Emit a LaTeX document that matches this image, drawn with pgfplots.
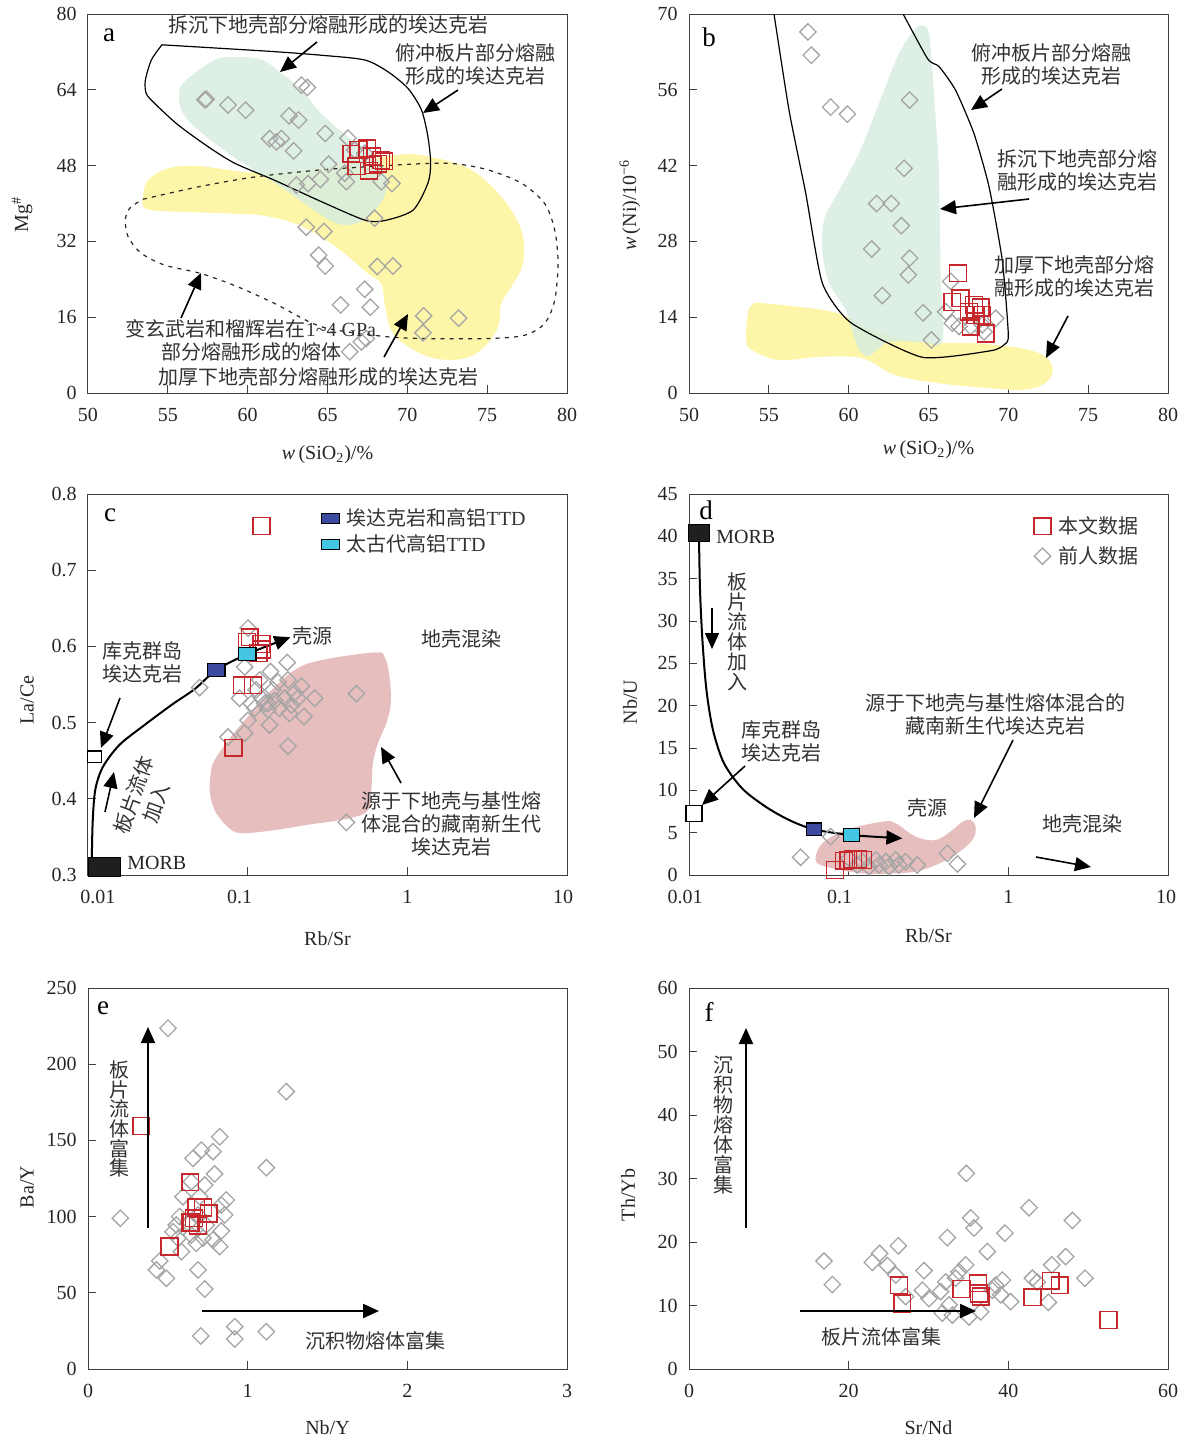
\documentclass[border=0pt]{standalone}
\usepackage{fontspec}
\setmainfont{Liberation Serif}
\newfontfamily\cjk{Noto Sans CJK SC}
\usepackage{pgfplots}
\pgfplotsset{compat=1.18}
\usetikzlibrary{arrows.meta}
\definecolor{gmark}{RGB}{165,165,165}
\definecolor{rmark}{RGB}{198,40,46}
\definecolor{greg}{RGB}{216,237,224}
\definecolor{yreg}{RGB}{253,245,168}
\definecolor{preg}{RGB}{230,190,190}
\definecolor{bmark}{RGB}{60,74,160}
\definecolor{cmark}{RGB}{66,198,228}
\definecolor{txt}{RGB}{50,50,50}
\pgfplotsset{
  panel/.style={scale only axis, width=239.5pt,
    axis line style={black!75, line width=0.5pt},
    tick align=inside, tick pos=left, major tick length=4pt,
    tick style={black!75, line width=0.5pt},
    tick label style={font=\fontsize{10}{12}\selectfont, text=black!85},
    /pgf/number format/assume math mode=true,
    xticklabel shift=4.2pt, yticklabel shift=2.2pt,
    label style={font=\fontsize{10}{12}\selectfont, text=black!85},
    clip marker paths=false},
  gd/.style={only marks, color=gmark, mark=square, mark size=2.9pt,
    mark options={rotate=45, line width=0.65pt}},
  rs/.style={only marks, color=rmark, mark=square, mark size=4.2pt,
    mark options={line width=0.75pt}},
}
\begin{document}
\begin{tikzpicture}
\useasboundingbox (0,0) rectangle (592.5pt,-721.5pt);

% ---------------- a ----------------
\begin{axis}[panel, at={(44pt,-196.5pt)}, anchor=south west, height=189.5pt,
  xmin=50, xmax=80, ymin=0, ymax=80,
  xtick={50,55,...,80}, ytick={0,16,...,80},
  xlabel={\textit{w}\,(SiO\textsubscript{2})/\%}, ylabel={Mg\textsuperscript{\#}},
  xlabel style={at={(axis description cs:0.5,-0.1636)}, anchor=center},
  ylabel style={at={(axis description cs:-0.1378,0.47)}, anchor=center}]
\addplot[draw=none, fill=yreg, smooth, tension=0.6] coordinates {
(53.44,41.4) (53.76,44.9) (55.01,47.4) (56.89,47.9) (60.44,46.5) (63.57,47.1) (66.70,48.8) (69.83,50.4) (71.92,49.5) (74.01,47.1) (75.89,41.4) (77.14,34.4) (77.24,27.4) (76.51,22.4) (75.89,18.9) (75.68,14.0) (74.84,9.8) (73.59,7.3) (71.71,7.3) (70.04,9.8) (68.99,13.3) (68.58,18.9) (68.37,23.1) (67.54,25.2) (66.08,29.4) (64.61,32.9) (62.94,35.8) (60.86,37.5) (58.77,37.9) (56.26,38.2) (53.97,38.6) (53.44,39.6) (53.44,41.4)};
\addplot[draw=none, fill=greg, fill opacity=0.85, smooth, tension=0.6] coordinates {
(55.74,64.3) (56.26,66.4) (57.93,70.3) (59.19,70.9) (60.86,70.4) (62.11,67.5) (63.36,64.0) (64.61,59.0) (66.28,54.1) (67.75,50.6) (68.58,47.1) (68.68,42.8) (68.16,39.3) (67.12,36.2) (65.87,35.5) (64.61,37.6) (62.94,41.5) (61.27,45.3) (59.39,49.2) (57.52,53.8) (56.26,57.6) (55.74,60.8) (55.74,64.3)};
\addplot[black, line width=0.6pt, smooth, tension=0.45] coordinates {
(54.63,73.5) (61.48,72.1) (64.61,71.3) (67.33,70.3) (68.79,67.8) (70.04,64.3) (70.88,59.8) (71.29,54.1) (71.46,48.5) (71.29,44.3) (70.36,38.6) (68.58,36.4) (67.33,36.5) (64.61,40.4) (61.69,44.9) (59.19,48.5) (57.52,52.0) (55.64,56.6) (54.18,61.1) (53.65,63.2) (53.59,66.0) (53.97,70.3) (54.63,73.5)};
\addplot[black!85, line width=0.6pt, dash pattern=on 2pt off 2.6pt, smooth, tension=0.5] coordinates {
(53.44,40.9) (56.89,43.5) (60.44,45.6) (64.61,47.1) (67.75,47.8) (70.88,48.4) (72.96,48.4) (75.05,47.1) (77.14,44.3) (78.60,40.0) (79.23,34.4) (79.44,27.4) (79.23,19.6) (78.60,14.7) (77.35,12.2) (75.05,11.5) (70.88,11.5) (68.37,12.0) (64.61,14.0) (61.69,18.9) (59.39,22.4) (57.10,25.2) (54.80,27.0) (53.34,29.5) (52.51,33.0) (52.34,36.5) (52.61,39.0) (53.44,40.9)};
\addplot[gd] coordinates {
(63.36,65.0) (63.74,64.5) (57.41,62.0) (57.31,61.9) (58.77,60.8) (59.87,59.7) (62.59,58.5) (63.19,57.6) (64.86,54.8) (66.28,53.8) (61.38,53.7) (61.80,53.0) (62.11,53.7) (62.88,51.1) (66.70,51.3) (67.33,50.6) (65.07,48.3) (63.05,43.9) (63.78,44.2) (64.55,45.1) (66.18,44.6) (66.08,46.4) (68.37,44.6) (69.04,44.2) (67.95,36.9) (63.67,35.0) (64.78,34.1) (64.45,29.1) (64.86,26.8) (68.12,26.7) (69.10,26.8) (67.33,21.9) (65.82,18.6) (67.68,18.1) (71.02,16.3) (73.21,15.8) (70.98,12.7) (67.43,11.5) (67.12,10.8) (66.39,8.7)};
\addplot[rs] coordinates {
(66.49,50.5) (66.95,51.3) (67.49,51.6) (67.79,49.9) (67.85,48.1) (68.37,49.2) (66.81,47.9) (67.60,46.9) (68.16,48.4) (68.54,48.9)};
\end{axis}

% ---------------- b ----------------
\begin{axis}[panel, at={(344.5pt,-196.5pt)}, anchor=south west, height=189.5pt,
  xmin=50, xmax=80, ymin=0, ymax=70,
  xtick={50,55,...,80}, ytick={0,14,...,70},
  xlabel={\textit{w}\,(SiO\textsubscript{2})/\%}, ylabel={\textit{w}\,(Ni)/10\textsuperscript{\textminus6}},
  xlabel style={at={(axis description cs:0.5,-0.1504)}, anchor=center},
  ylabel style={at={(axis description cs:-0.1232,0.496)}, anchor=center}]
\addplot[draw=none, fill=yreg, smooth, tension=0.6] coordinates {
(54.18,16.7) (58.98,15.0) (61.48,11.6) (64.61,9.5) (67.75,9.2) (70.04,8.6) (71.71,7.6) (72.55,6.1) (72.76,3.6) (72.13,1.5) (70.88,0.6) (68.79,0.9) (65.66,1.8) (62.94,3.3) (60.86,6.4) (58.35,6.7) (55.64,6.1) (53.97,7.9) (53.59,9.8) (53.72,15.3) (54.18,16.7)};
\addplot[draw=none, fill=greg, fill opacity=0.85, smooth, tension=0.55] coordinates {
(64.61,67.8) (64.99,67.0) (65.20,61.5) (65.41,52.3) (65.62,43.0) (65.70,33.8) (65.76,21.5) (65.87,9.7) (64.61,9.4) (62.5,9.4) (61.2,6.8) (60.5,9.0) (59.81,15.3) (58.77,20.3) (58.35,26.4) (58.46,32.0) (59.19,36.3) (60.65,44.3) (61.90,53.5) (63.15,62.7) (64.20,67.4) (64.61,67.8)};
\addplot[black, line width=0.6pt, smooth, tension=0.35] coordinates {
(55.22,72) (56.26,52.3) (57.31,36.9) (58.35,20.3) (60.13,13.0) (64.61,6.6) (68.89,7.8) (69.73,8.9) (70.00,10.7) (69.62,24.5) (68.79,38.1) (67.85,47.9) (66.70,55.9) (65.66,60.3) (64.93,61.8) (63.05,72)};
\addplot[gd] coordinates {
(57.45,66.7) (57.66,62.4) (58.87,52.8) (59.92,51.5) (63.82,54.1) (63.47,41.5) (61.75,35.0) (62.67,35.0) (63.30,30.9) (61.44,26.6) (63.82,24.9) (63.74,21.8) (62.11,18.0) (66.39,20.6) (64.66,14.8) (65.18,9.8) (66.08,15.0) (66.49,12.9) (66.91,12.3) (67.64,12.3) (68.37,12.6) (69.21,13.8) (68.48,11.3)};
\addplot[rs] coordinates {
(66.85,22.1) (66.49,16.8) (67.01,17.5) (67.85,16.3) (68.27,15.8) (67.54,15.0) (67.95,14.4) (68.37,14.4) (67.64,12.3) (68.58,11.0)};
\end{axis}

% ---------------- c ----------------
\begin{axis}[panel, at={(44pt,-437.5pt)}, anchor=south west, height=190.5pt,
  xmode=log, xmin=0.01, xmax=10, ymin=0.3, ymax=0.8,
  xtick={0.01,0.1,1,10}, xticklabels={\hspace*{10pt}0.01,0.1\hspace*{8pt},1,10\hspace*{4pt}}, xminorticks=false,
  ytick={0.3,0.4,0.5,0.6,0.7,0.8}, yticklabels={0.3,0.4,0.5,0.6,0.7,0.8},
  xlabel={Rb/Sr}, ylabel={La/Ce},
  xlabel style={at={(axis description cs:0.5,-0.168)}, anchor=center},
  ylabel style={at={(axis description cs:-0.1273,0.459)}, anchor=center},
  legend style={at={(axis description cs:0.487,0.973)}, anchor=north west, draw=none, fill=none,
    inner sep=0pt, row sep=-0.8pt, font=\fontsize{10}{12}\selectfont, nodes={inner sep=2pt, text=txt},
    /tikz/every odd column/.append style={column sep=1.5pt}},
  legend cell align=left,
  legend image code/.code={\draw[#1] plot coordinates {(0.16cm,0cm)};}]
\addlegendimage{only marks, mark=square*, mark size=2.5pt, mark options={xscale=1.8, fill=bmark, draw=black, line width=0.6pt}}
\addlegendentry{{\cjk 埃达克岩和高铝}TTD}
\addlegendimage{only marks, mark=square*, mark size=2.5pt, mark options={xscale=1.8, fill=cmark, draw=black, line width=0.6pt}}
\addlegendentry{{\cjk 太古代高铝}TTD}
\addplot[draw=none, fill=preg, smooth, tension=0.6, forget plot] coordinates {
(0.0592,0.438) (0.0621,0.451) (0.0790,0.482) (0.1005,0.508) (0.134,0.538) (0.197,0.569) (0.289,0.582) (0.624,0.592) (0.721,0.586) (0.774,0.560) (0.787,0.525) (0.738,0.499) (0.655,0.473) (0.609,0.447) (0.595,0.412) (0.568,0.385) (0.425,0.374) (0.239,0.366) (0.148,0.359) (0.0912,0.355) (0.0753,0.363) (0.0621,0.385) (0.0578,0.412) (0.0592,0.438)};
\addplot[black, line width=1pt, smooth, tension=0.5, forget plot, -{Triangle[length=8pt,width=7pt]}] coordinates {
(0.01055,0.31) (0.01069,0.368) (0.01111,0.412) (0.01241,0.442) (0.01578,0.471) (0.02264,0.497) (0.03326,0.523) (0.04656,0.544) (0.0637,0.569) (0.0995,0.590) (0.185,0.612)};
\addplot[gd, forget plot] coordinates {
(0.1005,0.624) (0.050,0.546) (0.177,0.579) (0.139,0.567) (0.0958,0.573) (0.217,0.548) (0.263,0.532) (0.480,0.538) (0.179,0.556) (0.155,0.553) (0.122,0.532) (0.1055,0.525) (0.134,0.525) (0.144,0.543) (0.197,0.539) (0.171,0.532) (0.111,0.519) (0.134,0.517) (0.158,0.519) (0.183,0.512) (0.225,0.508) (0.1005,0.503) (0.137,0.497) (0.0753,0.481) (0.0958,0.486) (0.179,0.469) (0.415,0.369) (0.089,0.532) (0.188,0.523) (0.206,0.532) (0.119,0.556) (0.128,0.525) (0.148,0.529) (0.113,0.543)};
\addplot[rs, forget plot] coordinates {
(0.122,0.758) (0.103,0.612) (0.0991,0.606) (0.122,0.603) (0.123,0.596) (0.117,0.591) (0.0922,0.549) (0.108,0.549) (0.0817,0.467)};
\addplot[only marks, forget plot, mark=square*, mark size=4.75pt, mark options={xscale=1.68, fill=black!88, draw=black}] coordinates {(0.0126,0.3105)};
\addplot[only marks, forget plot, mark=square*, mark size=2.9pt, mark options={xscale=1.2, fill=white, draw=black, line width=0.7pt}] coordinates {(0.0110,0.455)};
\addplot[only marks, forget plot, mark=square*, mark size=3.2pt, mark options={xscale=1.35, fill=bmark, draw=black, line width=0.6pt}] coordinates {(0.0637,0.569)};
\addplot[only marks, forget plot, mark=square*, mark size=3.2pt, mark options={xscale=1.35, fill=cmark, draw=black, line width=0.6pt}] coordinates {(0.0995,0.590)};
\end{axis}

% ---------------- d ----------------
\begin{axis}[panel, at={(344.5pt,-437.5pt)}, anchor=south west, height=190.5pt,
  xmode=log, xmin=0.01, xmax=10, ymin=0, ymax=45,
  xtick={0.01,0.1,1,10}, xticklabels={0.01\hspace*{4pt},0.1\hspace*{9pt},1,10\hspace*{2pt}}, xminorticks=false,
  ytick={0,5,...,45},
  xlabel={Rb/Sr}, ylabel={Nb/U},
  xlabel style={at={(axis description cs:0.5,-0.160)}, anchor=center},
  ylabel style={at={(axis description cs:-0.1232,0.454)}, anchor=center},
  legend style={at={(axis description cs:0.7196,0.953)}, anchor=north west, draw=none, fill=none,
    inner sep=0pt, row sep=1pt, font=\fontsize{10}{12}\selectfont, nodes={inner sep=2pt, text=txt},
    /tikz/every odd column/.append style={column sep=1.8pt}},
  legend cell align=left,
  legend image code/.code={\draw[#1] plot coordinates {(0.15cm,0cm)};}]
\addlegendimage{only marks, color=rmark, mark=square, mark size=4.2pt, mark options={line width=0.75pt}}
\addlegendentry{\cjk 本文数据}
\addlegendimage{only marks, color=gmark, mark=square, mark size=2.9pt, mark options={rotate=45, line width=0.65pt}}
\addlegendentry{\cjk 前人数据}
\addplot[draw=none, fill=preg, smooth, tension=0.6, forget plot] coordinates {
(0.0621,2.17) (0.0684,3.74) (0.0958,5.31) (0.163,6.30) (0.197,6.10) (0.263,4.53) (0.351,4.13) (0.446,5.31) (0.515,6.30) (0.581,6.50) (0.624,5.71) (0.595,4.13) (0.446,2.17) (0.289,0.59) (0.197,0.2) (0.122,0.2) (0.0790,0.79) (0.0637,1.38) (0.0621,2.17)};
\addplot[black, line width=1pt, smooth, tension=0.5, forget plot, -{Triangle[length=8pt,width=7pt]}] coordinates {
(0.01155,40) (0.01172,33.7) (0.01213,27.8) (0.01285,21.9) (0.01414,17.1) (0.01656,13.2) (0.02158,10.2) (0.0302,8.07) (0.0423,6.5) (0.0606,5.39) (0.104,4.72) (0.217,4.33)};
\addplot[gd, forget plot] coordinates {
(0.050,2.09) (0.0771,4.53) (0.122,1.57) (0.148,1.77) (0.171,1.57) (0.197,1.77) (0.227,1.57) (0.269,1.18) (0.179,0.98) (0.134,0.98) (0.415,2.56) (0.480,1.30) (0.1005,1.97) (0.113,1.18) (0.155,1.18) (0.206,1.18)};
\addplot[rs, forget plot] coordinates {
(0.0935,1.69) (0.0995,1.77) (0.1064,1.85) (0.1143,1.85) (0.123,1.77) (0.082,0.59)};
\addplot[only marks, forget plot, mark=square*, mark size=4.25pt, mark options={xscale=1.23, fill=black!88, draw=black}] coordinates {(0.01155,40.4)};
\addplot[only marks, forget plot, mark=square*, mark size=4pt, mark options={xscale=1.0, fill=white, draw=black, line width=0.7pt}] coordinates {(0.01075,7.3)};
\addplot[only marks, forget plot, mark=square*, mark size=3.2pt, mark options={xscale=1.15, fill=bmark, draw=black, line width=0.6pt}] coordinates {(0.0606,5.39)};
\addplot[only marks, forget plot, mark=square*, mark size=3.2pt, mark options={xscale=1.25, fill=cmark, draw=black, line width=0.6pt}] coordinates {(0.104,4.72)};
\end{axis}

% ---------------- e ----------------
\begin{axis}[panel, at={(44pt,-684.5pt)}, anchor=south west, height=190.5pt,
  xmin=0, xmax=3, ymin=0, ymax=250,
  xtick={0,1,2,3}, ytick={0,50,...,250},
  xlabel={Nb/Y}, ylabel={Ba/Y},
  xlabel style={at={(axis description cs:0.5,-0.155)}, anchor=center},
  ylabel style={at={(axis description cs:-0.1273,0.478)}, anchor=center}]
\addplot[gd] coordinates {
(0.501,223.6) (1.242,182.0) (0.2025,98.9) (0.825,152.4) (0.710,143.7) (0.783,142.6) (0.658,138.2) (1.117,132.1) (0.793,128.0) (0.731,120.7) (0.647,122.9) (0.595,113.1) (0.866,110.9) (0.835,107.6) (0.856,101.1) (0.574,100.0) (0.689,101.1) (0.532,90.1) (0.564,85.7) (0.647,87.9) (0.835,90.6) (0.783,84.7) (0.825,80.3) (0.585,77.0) (0.678,82.5) (0.449,70.9) (0.428,65.0) (0.491,59.5) (0.689,65.0) (0.731,52.5) (0.919,27.8) (0.919,19.7) (0.706,21.7) (1.117,24.5) (0.626,95.6) (0.741,94.5) (0.553,94.5) (0.699,113.1) (0.72,86)};
\addplot[rs] coordinates {
(0.334,159.5) (0.641,122.5) (0.678,105.9) (0.720,105.9) (0.756,102.1) (0.647,96.2) (0.689,94.1) (0.664,98.9) (0.637,96.2) (0.511,80.3)};
\end{axis}

% ---------------- f ----------------
\begin{axis}[panel, at={(344.5pt,-684.5pt)}, anchor=south west, height=190.5pt,
  xmin=0, xmax=60, ymin=0, ymax=60,
  xtick={0,20,40,60}, ytick={0,10,...,60},
  xlabel={Sr/Nd}, ylabel={Th/Yb},
  xlabel style={at={(axis description cs:0.5,-0.155)}, anchor=center},
  ylabel style={at={(axis description cs:-0.1273,0.457)}, anchor=center}]
\addplot[gd] coordinates {
(34.74,30.8) (42.59,25.4) (48.02,23.4) (35.28,23.8) (35.70,22.2) (39.58,21.4) (32.36,20.7) (26.22,19.4) (37.37,18.5) (16.91,17.0) (23.88,18.2) (22.96,16.8) (24.84,16.3) (47.18,17.7) (45.43,16.4) (34.66,16.4) (33.82,15.3) (29.44,15.5) (25.89,14.8) (17.95,13.3) (49.60,14.3) (43.01,14.3) (39.25,14.0) (38.41,13.2) (32.15,13.7) (29.23,12.4) (30.06,11.1) (31.52,12.2) (33.40,14.3) (27.14,11.4) (39.04,11.7) (40.29,10.6) (45.01,10.5) (31.73,8.8) (32.99,8.5) (35.07,8.2) (36.54,9.0) (32.57,10.1) (43.63,13.7) (38.0,12.4)};
\addplot[rs] coordinates {
(26.31,13.2) (26.72,10.3) (34.15,12.6) (36.20,13.5) (36.33,11.9) (36.54,11.4) (43.01,11.3) (45.30,13.9) (46.43,13.2) (52.53,7.7)};
\end{axis}

% ---------------- annotations (pixel grid of the reference) ----------------
\begin{scope}[x=0.5pt, y=-0.5pt,
  every node/.style={text=txt, font=\cjk\fontsize{10}{11.5}\selectfont, align=center, inner sep=0pt},
  arr/.style={line width=0.8pt, -{Triangle[length=8pt,width=7pt]}}]
\begin{scope}[every node/.style={text=black, font=\fontsize{13.5}{14}\selectfont, inner sep=0pt}]
\node at (109,35) {a}; \node at (709,37) {b}; \node at (110,515) {c};
\node at (706,510) {d}; \node at (103,1008) {e}; \node at (709,1012) {f};
\end{scope}
% a
\node at (328,25) {拆沉下地壳部分熔融形成的埃达克岩};
\node at (475,64) {俯冲板片部分熔融\\形成的埃达克岩};
\node at (251,340.5) {变玄武岩和榴辉岩在{\rmfamily 1\textasciitilde 4 GPa}\\部分熔融形成的熔体};
\node at (318,377) {加厚下地壳部分熔融形成的埃达克岩};
\draw[arr] (317,42) -- (280,72);
\draw[arr] (458,90) -- (423,113);
\draw[arr] (181,318) -- (201,273);
\draw[arr] (384,357) -- (408,314);
% b
\node at (1051,64) {俯冲板片部分熔融\\形成的埃达克岩};
\node at (1077,170) {拆沉下地壳部分熔\\融形成的埃达克岩};
\node at (1074,276) {加厚下地壳部分熔\\融形成的埃达克岩};
\draw[arr] (1002,89) -- (971,110);
\draw[arr] (1029,199) -- (940,209);
\draw[arr] (1068,316) -- (1046,358);
% c
\node at (312,636) {壳源};
\node at (461,639) {地壳混染};
\node at (142,662) {库克群岛\\埃达克岩};
\node[rotate=70, font=\cjk\fontsize{10}{12}\selectfont] at (145,799) {板片流体\\加入};
\node at (451,824) {源于下地壳与基性熔\\体混合的藏南新生代\\埃达克岩};
\node[anchor=west, font=\rmfamily\fontsize{10}{12}\selectfont, text=black!85] at (127,863) {MORB};
\draw[arr] (120,698) -- (101,748);
\draw[arr] (105,812) -- (114,772);
\draw[arr] (401,783) -- (381,747);
% d
\node[font=\cjk\fontsize{10}{10}\selectfont] at (737,632) {板\\片\\流\\体\\加\\入};
\node at (781,741) {库克群岛\\埃达克岩};
\node at (995,714.5) {源于下地壳与基性熔体混合的\\藏南新生代埃达克岩};
\node at (927,808) {壳源};
\node at (1082,824) {地壳混染};
\node[anchor=west, font=\rmfamily\fontsize{10}{12}\selectfont, text=black!85] at (716,537) {MORB};
\draw[arr] (712,608) -- (712,649);
\draw[arr] (745,766) -- (702,805);
\draw[arr] (1013,740) -- (974,818);
\draw[arr] (1036,857) -- (1091,867);
% e
\node[font=\cjk\fontsize{10}{9.85}\selectfont] at (119,1119) {板\\片\\流\\体\\富\\集};
\node at (375,1341) {沉积物熔体富集};
\draw[arr, line width=1pt] (148,1228) -- (148,1027);
\draw[arr, line width=1pt] (202,1311) -- (379,1311);
% f
\node[font=\cjk\fontsize{10}{10}\selectfont] at (723,1125) {沉\\积\\物\\熔\\体\\富\\集};
\node at (881,1337) {板片流体富集};
\draw[arr, line width=1pt] (746,1228) -- (746,1028);
\draw[arr, line width=1pt] (800,1311) -- (976,1311);
\end{scope}
\end{tikzpicture}
\end{document}
